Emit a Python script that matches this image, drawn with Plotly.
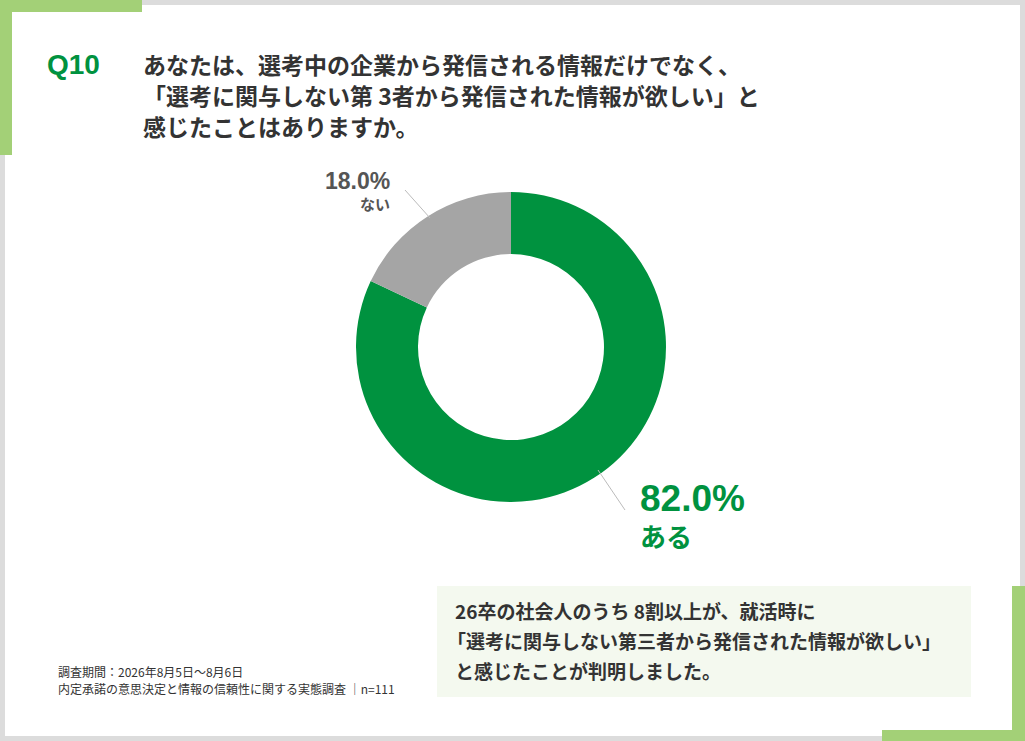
import plotly.graph_objects as go

labels = ["ある", "ない"]
values = [82.0, 18.0]
colors = ["#00923f", "#a5a5a5"]

W, H = 1025, 741
fig = go.Figure()

fig.add_trace(go.Pie(
    labels=labels, values=values, hole=0.6, sort=False, direction="clockwise",
    rotation=0, marker=dict(colors=colors, line=dict(color="white", width=0)),
    textinfo="none", hoverinfo="label+percent", showlegend=False,
    domain=dict(x=[356 / W, 666 / W], y=[1 - 502 / H, 1 - 192 / H]),
))

def px(x0, y0, x1, y1, color):
    fig.add_shape(type="rect", xref="paper", yref="paper",
                  x0=x0 / W, x1=x1 / W, y0=1 - y1 / H, y1=1 - y0 / H,
                  fillcolor=color, line_width=0, layer="below")

# frame
px(0, 0, W, H, "#dcdcdc")
px(5, 5, W - 5, H - 5, "white")
px(0, 0, 142, 12, "#a3d077")
px(0, 0, 12, 155, "#a3d077")
px(1012, 586, W, H, "#a3d077")
px(882, 730, W, H, "#a3d077")
px(12, 12, 1012, 730, "white")
# summary box
px(437, 586, 971, 697, "#f4f9ef")

FONT = "Noto Sans CJK JP"
LAT = "Liberation Sans, Noto Sans CJK JP"

def txt(x, y, s, size, color, bold=True, xanchor="left", family=FONT):
    fig.add_annotation(x=x / W, y=1 - y / H, xref="paper", yref="paper",
                       text=f"<b>{s}</b>" if bold else s, showarrow=False,
                       xanchor=xanchor, yanchor="middle", align="left",
                       font=dict(family=family, size=size, color=color))

txt(45, 64, "Q10", 28, "#00923f", family=LAT)
txt(141, 64, "あなたは、選考中の企業から発信される情報だけでなく、", 23, "#333333")
txt(141, 95, "「選考に関与しない第 3者から発信された情報が欲しい」と", 23, "#333333")
txt(141, 126, "感じたことはありますか。", 23, "#333333")

txt(392, 181, "18.0%", 23, "#555555", xanchor="right", family=LAT)
txt(392, 203, "ない", 15, "#555555", xanchor="right")
txt(638, 498, "82.0%", 37, "#00923f", family=LAT)
txt(638, 535, "ある", 26, "#00923f")

txt(453, 610, "26卒の社会人のうち 8割以上が、就活時に", 19, "#333333")
txt(445, 640, "「選考に関与しない第三者から発信された情報が欲しい」", 19, "#333333")
txt(453, 670, "と感じたことが判明しました。", 19, "#333333")

txt(56, 671, "調査期間：2026年8月5日～8月6日", 12, "#333333", bold=False)
txt(56, 688, "内定承諾の意思決定と情報の信頼性に関する実態調査 ｜n=111", 12, "#333333", bold=False)

# leader lines
for (x0, y0, x1, y1) in [(405, 190, 430, 218), (598, 470, 625, 510)]:
    fig.add_shape(type="line", xref="paper", yref="paper",
                  x0=x0 / W, x1=x1 / W, y0=1 - y0 / H, y1=1 - y1 / H,
                  line=dict(color="#bbbbbb", width=1))

fig.update_layout(width=W, height=H, margin=dict(l=0, r=0, t=0, b=0),
                  paper_bgcolor="white", plot_bgcolor="white")
fig.write_html("out.html", config={"displayModeBar": False},
               post_script="document.body.style.margin='0';")
